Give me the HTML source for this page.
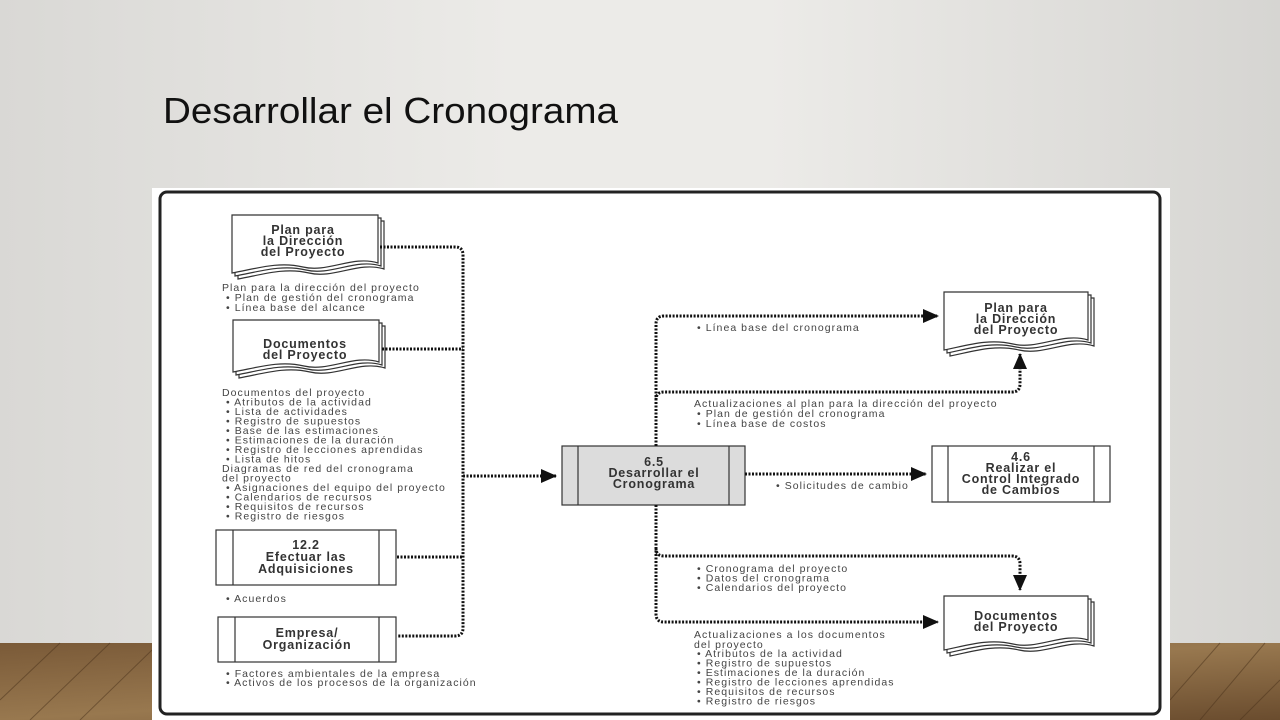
<!DOCTYPE html>
<html><head><meta charset="utf-8"><style>
html,body{margin:0;padding:0;width:1280px;height:720px;overflow:hidden}
body{background:linear-gradient(90deg,#d9d8d5 0%,#ecebe8 40%,#ecebe8 60%,#d6d5d2 100%);font-family:"Liberation Sans",sans-serif}
</style></head><body>
<svg width="1280" height="720" viewBox="0 0 1280 720" xmlns="http://www.w3.org/2000/svg" style="position:absolute;left:0;top:0">
<defs>
<linearGradient id="wood" x1="0" y1="0" x2="1" y2="1">
<stop offset="0" stop-color="#7a5a38"/><stop offset="0.5" stop-color="#98784f"/><stop offset="1" stop-color="#6a4c2e"/></linearGradient>
<marker id="ah2" markerWidth="16" markerHeight="14" refX="15" refY="7" orient="auto" markerUnits="userSpaceOnUse"><path d="M0,0 L16,7 L0,14 z" fill="#111"/></marker>
</defs>
<rect x="0" y="643" width="1280" height="77" fill="url(#wood)"/>
<g stroke="#4a321b" stroke-width="1" opacity="0.5">
<line x1="0" y1="700" x2="60" y2="643"/><line x1="30" y1="720" x2="110" y2="643"/><line x1="80" y1="720" x2="152" y2="650"/>
<line x1="1170" y1="700" x2="1220" y2="643"/><line x1="1200" y1="720" x2="1265" y2="643"/><line x1="1240" y1="720" x2="1280" y2="680"/>
</g>
<text x="163" y="123" font-family="Liberation Sans, sans-serif" font-size="36" fill="#111" textLength="455" lengthAdjust="spacingAndGlyphs">Desarrollar el Cronograma</text>
<rect x="152" y="188" width="1018" height="532" fill="#fff"/>
<rect x="160" y="192" width="1000" height="522" rx="7" fill="none" stroke="#222" stroke-width="3"/>

<g font-family="Liberation Sans, sans-serif" fill="#222">
<g fill="#fff" stroke="#333" stroke-width="1.2">
<path d="M238,221 h146 v48 c-25,-8 -50,10 -75,4 c-25,-6 -48,2 -71,6 z"/>
<path d="M235,218 h146 v48 c-25,-8 -50,10 -75,4 c-25,-6 -48,2 -71,6 z"/>
<path d="M232,215 h146 v48 c-25,-8 -50,10 -75,4 c-25,-6 -48,2 -71,6 z"/>
<path d="M239,326 h146 v42 c-25,-8 -50,10 -75,4 c-25,-6 -48,2 -71,6 z"/>
<path d="M236,323 h146 v42 c-25,-8 -50,10 -75,4 c-25,-6 -48,2 -71,6 z"/>
<path d="M233,320 h146 v42 c-25,-8 -50,10 -75,4 c-25,-6 -48,2 -71,6 z"/>
<path d="M950,298 h144 v48 c-25,-8 -50,10 -75,4 c-25,-6 -48,2 -69,6 z"/>
<path d="M947,295 h144 v48 c-25,-8 -50,10 -75,4 c-25,-6 -48,2 -69,6 z"/>
<path d="M944,292 h144 v48 c-25,-8 -50,10 -75,4 c-25,-6 -48,2 -69,6 z"/>
<path d="M950,602 h144 v44 c-25,-8 -50,10 -75,4 c-25,-6 -48,2 -69,6 z"/>
<path d="M947,599 h144 v44 c-25,-8 -50,10 -75,4 c-25,-6 -48,2 -69,6 z"/>
<path d="M944,596 h144 v44 c-25,-8 -50,10 -75,4 c-25,-6 -48,2 -69,6 z"/>
</g>
<g font-weight="bold" font-size="12.5" text-anchor="middle" fill="#333" letter-spacing="0.8">
<text x="303" y="234">Plan para</text><text x="303" y="245">la Dirección</text><text x="303" y="256">del Proyecto</text>
<text x="305" y="348">Documentos</text><text x="305" y="359">del Proyecto</text>
<text x="1016" y="312">Plan para</text><text x="1016" y="323">la Dirección</text><text x="1016" y="334">del Proyecto</text>
<text x="1016" y="620">Documentos</text><text x="1016" y="631">del Proyecto</text>
</g>
<g stroke="#333" stroke-width="1.2" fill="#fff">
<rect x="216" y="530" width="180" height="55"/><line x1="233" y1="530" x2="233" y2="585"/><line x1="379" y1="530" x2="379" y2="585"/>
<rect x="218" y="617" width="178" height="45"/><line x1="235" y1="617" x2="235" y2="662"/><line x1="379" y1="617" x2="379" y2="662"/>
<rect x="562" y="446" width="183" height="59" fill="#dcdcdc"/><line x1="578" y1="446" x2="578" y2="505"/><line x1="729" y1="446" x2="729" y2="505"/>
<rect x="932" y="446" width="178" height="56"/><line x1="948" y1="446" x2="948" y2="502"/><line x1="1094" y1="446" x2="1094" y2="502"/>
</g>
<g font-weight="bold" font-size="12.5" text-anchor="middle" fill="#333" letter-spacing="0.8">
<text x="306" y="549">12.2</text><text x="306" y="561">Efectuar las</text><text x="306" y="573">Adquisiciones</text>
<text x="307" y="637">Empresa/</text><text x="307" y="649">Organización</text>
<text x="654" y="466">6.5</text><text x="654" y="477">Desarrollar el</text><text x="654" y="488">Cronograma</text>
<text x="1021" y="461">4.6</text><text x="1021" y="472">Realizar el</text><text x="1021" y="483">Control Integrado</text><text x="1021" y="494">de Cambios</text>
</g>
<g fill="none" stroke="#111" stroke-width="3" stroke-dasharray="2 1.5">
<path d="M380,247 H455 Q463,247 463,255 V628 Q463,636 455,636 H397"/>
<path d="M382,349 H463"/>
<path d="M397,557 H463"/>
<path d="M463,476 H556" marker-end="url(#ah2)"/>
<path d="M656,446 V324 Q656,316 664,316 H938" marker-end="url(#ah2)"/>
<path d="M656,400 Q656,392 664,392 H1012 Q1020,392 1020,384 V354" marker-end="url(#ah2)"/>
<path d="M745,474 H926" marker-end="url(#ah2)"/>
<path d="M656,505 V614 Q656,622 664,622 H938" marker-end="url(#ah2)"/>
<path d="M656,548 Q656,556 664,556 H1012 Q1020,556 1020,564 V590" marker-end="url(#ah2)"/>
</g>
<g font-size="10.5" fill="#444" letter-spacing="1.05">
<text x="222" y="291">Plan para la dirección del proyecto</text>
<text x="226" y="301">•  Plan de gestión del cronograma</text>
<text x="226" y="311">•  Línea base del alcance</text>
<text x="222" y="396">Documentos del proyecto</text>
<text x="226" y="405.5">•  Atributos de la actividad</text>
<text x="226" y="415">•  Lista de actividades</text>
<text x="226" y="424.5">•  Registro de supuestos</text>
<text x="226" y="434">•  Base de las estimaciones</text>
<text x="226" y="443.5">•  Estimaciones de la duración</text>
<text x="226" y="453">•  Registro de lecciones aprendidas</text>
<text x="226" y="462.5">•  Lista de hitos</text>
<text x="222" y="472">Diagramas de red del cronograma</text>
<text x="222" y="481.5">del proyecto</text>
<text x="226" y="491">•  Asignaciones del equipo del proyecto</text>
<text x="226" y="500.5">•  Calendarios de recursos</text>
<text x="226" y="510">•  Requisitos de recursos</text>
<text x="226" y="519.5">•  Registro de riesgos</text>
<text x="226" y="602">•  Acuerdos</text>
<text x="226" y="677">•  Factores ambientales de la empresa</text>
<text x="226" y="686">•  Activos de los procesos de la organización</text>
<text x="697" y="331">•  Línea base del cronograma</text>
<text x="694" y="407">Actualizaciones al plan para la dirección del proyecto</text>
<text x="697" y="417">•  Plan de gestión del cronograma</text>
<text x="697" y="427">•  Línea base de costos</text>
<text x="776" y="489">•  Solicitudes de cambio</text>
<text x="697" y="572">•  Cronograma del proyecto</text>
<text x="697" y="581.5">•  Datos del cronograma</text>
<text x="697" y="591">•  Calendarios del proyecto</text>
<text x="694" y="638">Actualizaciones a los documentos</text>
<text x="694" y="648">del proyecto</text>
<text x="697" y="657">•  Atributos de la actividad</text>
<text x="697" y="666.5">•  Registro de supuestos</text>
<text x="697" y="676">•  Estimaciones de la duración</text>
<text x="697" y="685.5">•  Registro de lecciones aprendidas</text>
<text x="697" y="695">•  Requisitos de recursos</text>
<text x="697" y="704.5">•  Registro de riesgos</text>
</g>
</g>
</svg>
</body></html>
